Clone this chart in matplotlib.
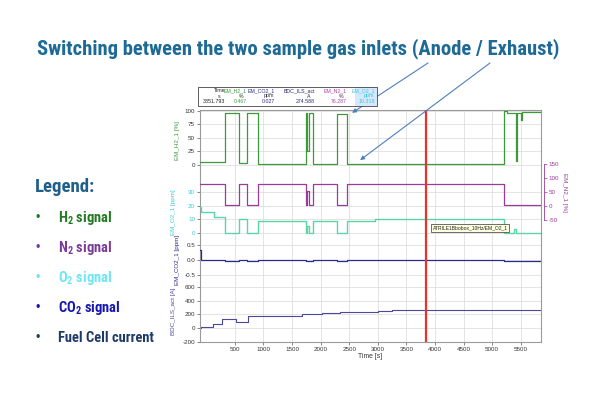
import matplotlib
matplotlib.use("Agg")
import matplotlib.pyplot as plt
from matplotlib import font_manager
from matplotlib.patches import Rectangle

# ---------------- data ----------------
t_h2 = [-110, 325, 576, 705, 909, 1745, 1768, 1790, 1860, 2280, 2466, 5208, 5260, 5410, 5428, 5510, 5525, 5850]
h2   = [5,    95,  4,   95,  2,   95,   25,   95,   2,    94,   2,    99,   96,   8,    96,   82,   97,   97]

t_n2 = [-110, 325, 576, 705, 909, 1745, 1768, 1790, 1860, 2280, 2466, 5208, 5850]
n2   = [77,   2,   77,  2,   78,  2,    55,   2,    78,   2,    78,   3,    3]

t_o2 = [-110, -85, 130, 325, 576, 705, 909, 1745, 1768, 1790, 1860, 2280, 2466, 2950, 5208, 5390, 5410, 5850]
o2   = [19,   15.5, 12, 0,   10,  0,   9,   0,    5,    0,    9,    0,    9,    10.3, 0,    2.5,  0,    0]

t_co2 = [-110, -100, 325, 576, 705, 909, 1745, 1860, 2280, 2466, 5208, 5850]
co2   = [0.35, 0.0, -0.04, 0.0, -0.04, 0.01, -0.04, 0.01, -0.05, 0.0, -0.03, -0.03]

t_cur = [-110, -90, 40, 121, 279, 518, 734, 1200, 1667, 2017, 2338, 3009, 3243, 5850]
cur   = [0,    12,  20, 58,  131, 88,  176, 182,  200,  215,  230,  245,  272,  272]

cursor_t = 3851.793

x_ticks = [500, 1000, 1500, 2000, 2500, 3000, 3500, 4000, 4500, 5000, 5500]
h2_ticks = [0, 25, 50, 75, 100]
n2_ticks = [-50, 0, 50, 100, 150]
o2_ticks = [0, 10, 20, 30]
co2_ticks = [-0.5, 0.0, 0.5]
co2_ticklabels = ["-0.5", "0.0", "0.5"]
cur_ticks = [-200, 0, 200, 400, 600]

hdr_names = ["Time", "EM_H2_1", "EM_CO2_1", "BDC_ILS_act", "EM_N2_1", "EM_O2_1"]
hdr_units = ["s", "%", "ppm", "A", "%", "ppm"]
hdr_values = ["3851.793", "0.467", "0.027", "274.588", "76.287", "10.318"]

legend_items = ["H$_\\mathregular{2}$ signal", "N$_\\mathregular{2}$ signal",
                "O$_\\mathregular{2}$ signal", "CO$_\\mathregular{2}$ signal", "Fuel Cell current"]

title = "Switching between the two sample gas inlets (Anode / Exhaust)"

# ---------------- styling ----------------
C_H2, C_N2, C_O2L, C_O2T, C_CO2, C_CUR = "#3c9a3c", "#9a3a9a", "#5ad6a6", "#3cc8dc", "#2a2a92", "#4a4a9c"
LEG_COLORS = ["#237a23", "#7a3c98", "#6ee6f4", "#1616b0", "#1e3a68"]
HDR_COLORS = ["#222222", C_H2, C_CO2, "#2a2a70", "#b040b0", C_O2T]

avail = {f.name for f in font_manager.fontManager.ttflist}
NARROW = "DejaVu Sans"
for cand in ["Roboto Condensed", "Liberation Sans Narrow", "DejaVu Sans Condensed",
             "Open Sans Condensed", "Roboto", "Lato", "Liberation Sans"]:
    if cand in avail:
        NARROW = cand
        break
SMALL = "Liberation Sans" if "Liberation Sans" in avail else "DejaVu Sans"
plt.rcParams["font.family"] = [SMALL, "DejaVu Sans"]
plt.rcParams["mathtext.default"] = "regular"

W, H = 600, 400
fig = plt.figure(figsize=(6, 4), dpi=100)
fig.patch.set_facecolor("white")
renderer = fig.canvas.get_renderer()

def fx(px):
    return px / W

def fy(py):
    return 1 - py / H

def fit_size(txt, target_px):
    w = txt.get_window_extent(renderer).width
    return txt.get_fontsize() * target_px / w

L, R, T, B = 200, 541, 110, 342
rect = [fx(L), fy(B), (R - L) / W, (B - T) / H]
XLIM = (-110, 5855)

def ylim_for(v0, p0, v1, p1):
    s = (p1 - p0) / (v1 - v0)
    return (v0 + (B - p0) / s, v0 + (T - p0) / s)

TS = 4.5
GRID = "#d9d9d9"

# current (base axes, owns frame and x axis)
ax0 = fig.add_axes(rect)
ax0.set_xlim(*XLIM)
ax0.set_ylim(*ylim_for(0, 328.3, 600, 287))
ax0.set_xticks(x_ticks)
ax0.set_xticklabels([str(v) for v in x_ticks])
ax0.set_yticks(cur_ticks)
ax0.set_yticklabels([str(v) for v in cur_ticks])
ax0.grid(True, color=GRID, lw=0.5)
ax0.set_axisbelow(True)
for s in ax0.spines.values():
    s.set_color("#9a9a9a")
    s.set_linewidth(0.8)
ax0.tick_params(axis="both", direction="out", length=2, width=0.5, labelsize=TS, pad=1.5,
                colors="#555555", labelcolor="#333333")
ax0.plot(t_cur, cur, drawstyle="steps-post", color=C_CUR, lw=0.8)
ax0.set_xlabel("Time [s]", fontsize=TS + 0.4, labelpad=1, color="#333333")

def overlay(ylim, ticks, labels, tcolor):
    a = fig.add_axes(rect, sharex=ax0)
    a.patch.set_visible(False)
    for s in a.spines.values():
        s.set_visible(False)
    a.xaxis.set_visible(False)
    a.set_ylim(*ylim)
    a.set_yticks(ticks)
    a.set_yticklabels(labels)
    a.tick_params(axis="y", direction="out", length=2, width=0.5, labelsize=TS, pad=1.5,
                  colors="#555555", labelcolor=tcolor)
    return a

ax_co2 = overlay(ylim_for(0, 260, 0.5, 245.3), co2_ticks, co2_ticklabels, "#333333")
ax_co2.grid(True, axis="y", color=GRID, lw=0.5)
ax_co2.plot(t_co2, co2, drawstyle="steps-post", color=C_CO2, lw=0.9)

ax_o2 = overlay(ylim_for(0, 232.7, 20, 205.7), o2_ticks, [str(v) for v in o2_ticks], C_O2T)
ax_o2.grid(True, axis="y", color=GRID, lw=0.5)
ax_o2.plot(t_o2, o2, drawstyle="steps-post", color=C_O2L, lw=1.0)

ax_n2 = overlay(ylim_for(0, 206, 150, 164), n2_ticks, [str(v) for v in n2_ticks], C_N2)
ax_n2.yaxis.tick_right()
ax_n2.spines["right"].set_visible(True)
ax_n2.spines["right"].set_bounds(-50, 150)
ax_n2.spines["right"].set_color(C_N2)
ax_n2.spines["right"].set_linewidth(0.6)
ax_n2.spines["right"].set_position(("outward", 2))
ax_n2.tick_params(axis="y", colors=C_N2, labelcolor=C_N2)
ax_n2.plot(t_n2, n2, drawstyle="steps-post", color=C_N2, lw=0.9)

ax_h2 = overlay(ylim_for(0, 165, 100, 110.7), h2_ticks, [str(v) for v in h2_ticks], "#333333")
ax_h2.grid(True, axis="y", color=GRID, lw=0.5)
ax_h2.plot(t_h2, h2, drawstyle="steps-post", color=C_H2, lw=0.9)

# cursor
ax_h2.axvline(cursor_t, color="#e8322a", lw=1.6, zorder=5)

# tooltip
ax_o2.text(3960, 3.3, "ATRILE1Bbobox_10Hz/EM_O2_1", fontsize=3.6, color="#222222", va="center", ha="left",
           bbox=dict(boxstyle="square,pad=0.25", fc="#ffffe0", ec="#333333", lw=0.5), zorder=6)

# axis labels
fig.text(fx(177), fy(141), "EM_H2_1 [%]", rotation=90, ha="center", va="center", fontsize=TS, color=C_H2)
fig.text(fx(174), fy(212), "EM_O2_1 [ppm]", rotation=90, ha="center", va="center", fontsize=TS, color=C_O2T)
fig.text(fx(178), fy(260), "EM_CO2_1 [ppm]", rotation=90, ha="center", va="center", fontsize=TS, color=C_CO2)
fig.text(fx(173), fy(311), "BDC_ILS_act [A]", rotation=90, ha="center", va="center", fontsize=TS, color=C_CUR)
fig.text(fx(565), fy(192), "EM_N2_1 [%]", rotation=270, ha="center", va="center", fontsize=TS, color=C_N2)

# header box
hx0, hx1, hy0, hy1 = 198, 377, 87, 106
fig.add_artist(Rectangle((fx(355), fy(hy1)), (hx1 - 355) / W, (hy1 - hy0) / H, transform=fig.transFigure,
                         fc="#d6e8fb", ec="none", zorder=1))
fig.add_artist(Rectangle((fx(hx0), fy(hy1)), (hx1 - hx0) / W, (hy1 - hy0) / H, transform=fig.transFigure,
                         fc="none", ec="#444444", lw=0.6, zorder=2))
col_right = [225, 247, 275, 315, 347, 375]
for i in range(len(hdr_names)):
    c = HDR_COLORS[i]
    fig.text(fx(col_right[i]), fy(90.5), hdr_names[i], ha="right", va="center", fontsize=3.8, color=c, zorder=3)
    fig.text(fx(col_right[i] - 6), fy(96), hdr_units[i], ha="center", va="center", fontsize=3.8,
             color="#333333" if i < 5 else c, zorder=3)
    fig.text(fx(col_right[i]), fy(101.5), hdr_values[i], ha="right", va="center", fontsize=3.8,
             color=c if i > 0 else "#222222", zorder=3)

# title (sized to the reference width)
ttl = fig.text(fx(298), fy(49), title, ha="center", va="center", fontsize=16, fontweight="bold",
               family=[NARROW, "DejaVu Sans"], color="#1d6a96")
ttl.set_fontsize(fit_size(ttl, 523))

# arrows from title to the plot
arrow_kw = dict(arrowstyle="-|>", color="#4f7fbf", lw=0.8, mutation_scale=6, shrinkA=0, shrinkB=0)
ax_h2.annotate("", xy=(2550, 96), xycoords="data", xytext=(fx(428), fy(63)), textcoords="figure fraction",
               arrowprops=arrow_kw, annotation_clip=False, zorder=10)
ax_h2.annotate("", xy=(2690, 9), xycoords="data", xytext=(fx(490), fy(63)), textcoords="figure fraction",
               arrowprops=arrow_kw, annotation_clip=False, zorder=10)

# slide legend
lg = fig.text(fx(35), fy(187), "Legend:", ha="left", va="center", fontsize=12, fontweight="bold",
              family=[NARROW, "DejaVu Sans"], color="#1f5f8a")
lg.set_fontsize(fit_size(lg, 60))
leg_y = [218, 248, 278, 308, 338]
items = []
for i in range(len(legend_items)):
    fig.text(fx(36), fy(leg_y[i]), "\u2022", ha="left", va="center", fontsize=9, color=LEG_COLORS[i])
    items.append(fig.text(fx(58), fy(leg_y[i]), legend_items[i], ha="left", va="center", fontsize=12,
                          fontweight="bold", family=[NARROW, "DejaVu Sans"], color=LEG_COLORS[i]))
leg_fs = fit_size(items[-1], 96)
for it in items:
    it.set_fontsize(leg_fs)

fig.savefig("out.png", dpi=100, facecolor="white")
